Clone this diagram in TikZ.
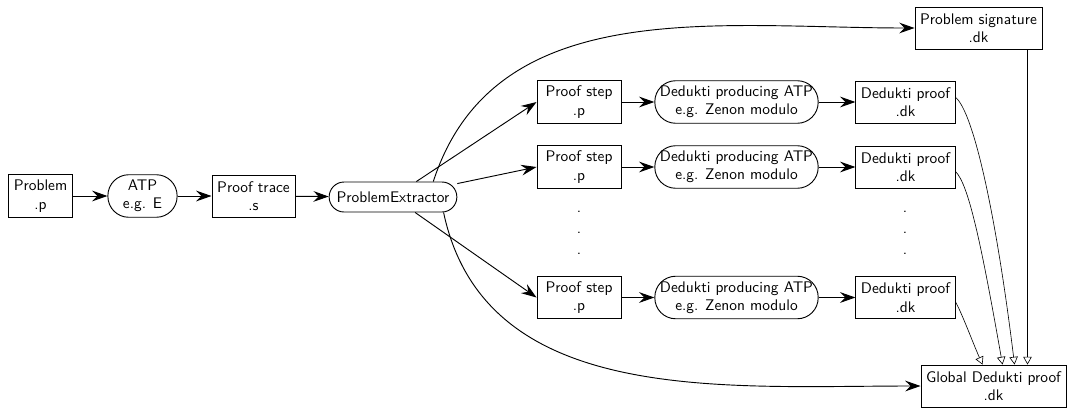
\documentclass[tikz,border=0pt]{standalone}
\usetikzlibrary{arrows.meta,calc}
\begin{document}
\begin{tikzpicture}[x=0.65pt,y=-0.65pt,
  every node/.style={font=\sffamily},
  box/.style={draw, semithick, align=center, minimum height=27.3pt, inner sep=3.33pt},
  pill/.style={box, rounded corners=13.6pt},
  arr/.style={-{Stealth[length=10pt,width=7pt,inset=3.5pt]}, semithick},
  merge/.style={-{Triangle[open,length=5pt,width=5.5pt]}, thin},
  dotnode/.style={inner sep=0pt, anchor=base}]
\useasboundingbox (0,0) rectangle (1067,407);
% main chain
\node[box, minimum width=41pt] (prob) at (40.5,196) {Problem\\.p};
\node[pill, minimum width=45pt] (atp) at (142.5,196) {ATP\\e.g. E};
\node[box, minimum width=54pt] (trace) at (253.5,196) {Proof trace\\.s};
\node[box, rounded corners=9.7pt, minimum width=83pt, minimum height=19.5pt] (extr) at (393,197) {ProblemExtractor};
% rows
\node[box, minimum width=54.6pt] (step1) at (579,102) {Proof step\\.p};
\node[pill, minimum width=106pt] (datp1) at (736.5,102) {Dedukti producing ATP\\e.g. Zenon modulo};
\node[box, minimum width=64.4pt] (dk1) at (905.5,102) {Dedukti proof\\.dk};
\node[box, minimum width=54.6pt] (step2) at (579,167) {Proof step\\.p};
\node[pill, minimum width=106pt] (datp2) at (736.5,167) {Dedukti producing ATP\\e.g. Zenon modulo};
\node[box, minimum width=64.4pt] (dk2) at (905.5,167) {Dedukti proof\\.dk};
\node[box, minimum width=54.6pt] (step3) at (579,297.5) {Proof step\\.p};
\node[pill, minimum width=106pt] (datp3) at (736.5,297.5) {Dedukti producing ATP\\e.g. Zenon modulo};
\node[box, minimum width=64.4pt] (dk3) at (905.5,297.5) {Dedukti proof\\.dk};
% dots
\node[dotnode] (da1) at (579,212) {.};
\node[dotnode] (da2) at (579,233) {.};
\node[dotnode] (da3) at (579,254) {.};
\node[dotnode] (db1) at (905,212) {.};
\node[dotnode] (db2) at (905,233) {.};
\node[dotnode] (db3) at (905,254) {.};
% outputs
\node[box, minimum width=77.4pt] (sig) at (978.5,28) {Problem signature\\.dk};
\node[box, minimum width=94pt] (glob) at (993.5,386) {Global Dedukti proof\\.dk};
\coordinate (g1) at ($(glob.north west)+(62,0)$);
\coordinate (g2) at ($(glob.north west)+(82,0)$);
\coordinate (g3) at ($(glob.north west)+(94,0)$);
\coordinate (g4) at ($(glob.north west)+(107,0)$);
% connectors
\draw[arr] (prob) -- (atp);
\draw[arr] (atp) -- (trace);
\draw[arr] (trace) -- (extr);
\draw[arr] (extr) -- (step1.west);
\draw[arr] (extr) -- (step2.west);
\draw[arr] (extr) -- (step3.west);
\draw[arr] (extr.21) to[out=72,in=180] (sig.west);
\draw[arr] (extr.-17) to[out=-78,in=180] (glob.west);
\foreach \i in {1,2,3}{
  \draw[arr] (step\i) -- (datp\i);
  \draw[arr] (datp\i) -- (dk\i);
}
\draw[merge] ([yshift=3pt]dk1.east) to[out=-40,in=97,out distance=15pt,in distance=100pt] (g3);
\draw[merge] ([yshift=-3pt]dk2.east) to[out=-45,in=100,out distance=12pt,in distance=80pt] (g2);
\draw[merge] ([yshift=-3pt]dk3.east) to[out=-60,in=114,out distance=8pt,in distance=15pt] (g1);
\draw[merge] (sig.south -| g4) -- (g4);
\end{tikzpicture}
\end{document}
